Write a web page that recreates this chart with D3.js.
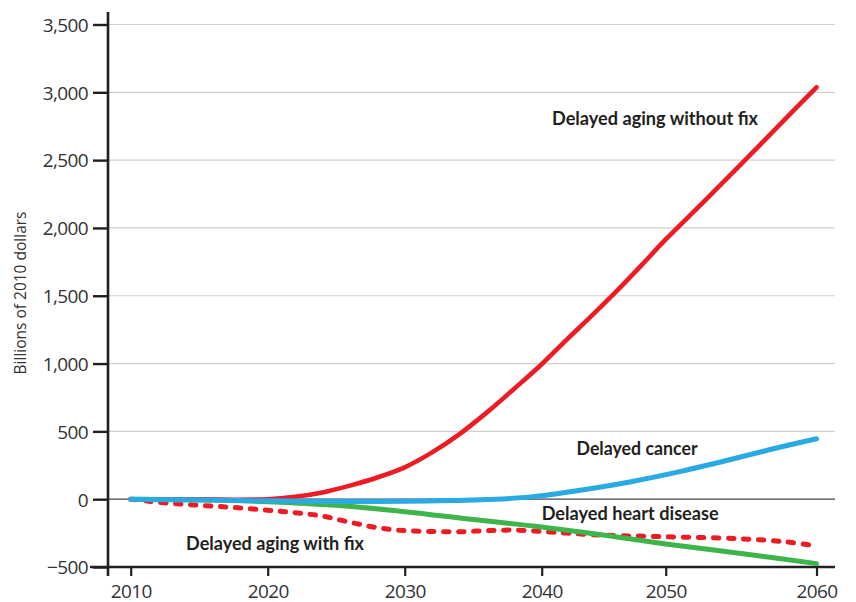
<!DOCTYPE html>
<html lang="en">
<head>
<meta charset="UTF-8">
<title>Billions of 2010 dollars</title>
<script src="https://d3js.org/d3.v7.min.js"></script>
<style>
    body { margin: 0; background: #fff; }
    svg { display: block; }
    .tick-label { font-family: "Open Sans", sans-serif; font-size: 19px; letter-spacing: -0.6px; fill: #333; }
    .axis-title { font-family: "Open Sans", sans-serif; font-size: 15.5px; fill: #333; }
    .series-label { font-family: Lato, sans-serif; font-weight: 700; font-size: 19px; fill: #231f20; }
</style>
</head>
<body>
<svg width="856" height="602"></svg>
<script>
// tick values
const yTicks = [-500, 0, 500, 1000, 1500, 2000, 2500, 3000, 3500];
const xTicks = [2010, 2020, 2030, 2040, 2050, 2060];

// Delayed aging without fix (solid red)
const noFixYears  = [2010, 2015, 2020, 2022, 2024, 2026, 2028, 2030, 2032, 2034, 2036, 2038, 2040, 2042, 2044, 2046, 2048, 2050, 2052.5, 2055, 2057.5, 2060];
const noFixValues = [0, -3, 0, 18, 50, 100, 160, 235, 345, 480, 640, 815, 995, 1175, 1350, 1530, 1720, 1915, 2190, 2470, 2755, 3037];

// Delayed cancer (blue)
const cancerYears  = [2010, 2015, 2020, 2025, 2030, 2035.5, 2039.2, 2043.1, 2047.1, 2051, 2054.5, 2057, 2060];
const cancerValues = [0, -6, -12, -16, -16, -5, 17, 66, 127, 205, 298, 368, 446];

// Delayed heart disease (green)
const heartYears  = [2010, 2015, 2020, 2025, 2030, 2035, 2040, 2045, 2050, 2055, 2060];
const heartValues = [0, -5, -18, -45, -92, -150, -205, -265, -330, -400, -475];

// Delayed aging with fix (dashed red)
const fixYears  = [2010, 2012.5, 2015, 2017.5, 2020, 2022, 2024, 2026, 2028, 2030, 2032, 2034, 2036, 2038, 2040, 2042, 2045, 2050, 2055, 2058, 2060];
const fixValues = [0, -27, -45, -61, -81, -100, -125, -170, -210, -232, -238, -240, -232, -228, -238, -250, -265, -277, -292, -315, -345];

const svg = d3.select("svg");

// year axis in the source is not evenly spaced past 2040
const x = d3.scaleLinear()
    .domain([2010, 2040, 2050, 2060])
    .range([130.7, 541.7, 665.7, 816.5]);

const y = d3.scaleLinear()
    .domain([-500, 3500])
    .range([567, 24.5]);

const left = 108, right = 835;

// grid lines
svg.append("g")
    .selectAll("line")
    .data(yTicks.filter(d => d > 0))
    .enter().append("line")
    .attr("x1", left).attr("x2", right)
    .attr("y1", d => y(d)).attr("y2", d => y(d))
    .attr("stroke", "#d0d0d0")
    .attr("stroke-width", 1.2);

// zero line
svg.append("line")
    .attr("x1", left).attr("x2", right)
    .attr("y1", y(0)).attr("y2", y(0))
    .attr("stroke", "#444")
    .attr("stroke-width", 1.2);

// y axis
const yAxis = svg.append("g")
    .attr("transform", `translate(${left},0)`)
    .call(d3.axisLeft(y).tickValues(yTicks).tickFormat(d3.format(",")).tickSize(15).tickPadding(5));
yAxis.select(".domain").remove();
yAxis.attr("font-size", null).attr("font-family", null);
yAxis.selectAll(".tick line").attr("stroke", "#231f20").attr("stroke-width", 2.4);
yAxis.selectAll(".tick text").attr("class", "tick-label").attr("dy", "0.36em");

// x axis
const xAxis = svg.append("g")
    .attr("transform", `translate(0,${y(-500)})`)
    .call(d3.axisBottom(x).tickValues(xTicks).tickFormat(d3.format("d")).tickSize(9).tickPadding(5));
xAxis.select(".domain").remove();
xAxis.attr("font-size", null).attr("font-family", null);
xAxis.selectAll(".tick line").attr("stroke", "#231f20").attr("stroke-width", 2.2);
xAxis.selectAll(".tick text").attr("class", "tick-label").attr("dy", "0.9em");

// axis lines
svg.append("line")
    .attr("x1", 90).attr("x2", right)
    .attr("y1", y(-500)).attr("y2", y(-500))
    .attr("stroke", "#231f20").attr("stroke-width", 2.4);
svg.append("line")
    .attr("x1", left).attr("x2", left)
    .attr("y1", 12).attr("y2", 576)
    .attr("stroke", "#231f20").attr("stroke-width", 2.6);

// y axis title
svg.append("text")
    .attr("class", "axis-title")
    .attr("transform", "translate(26,293) rotate(-90)")
    .attr("text-anchor", "middle")
    .text("Billions of 2010 dollars");

// lines
const line = d3.line()
    .x(d => x(d[0]))
    .y(d => y(d[1]))
    .curve(d3.curveCatmullRom.alpha(0.5));

const series = [
    { years: fixYears, values: fixValues, color: "#ed1c24", width: 5, dash: "5.5,9.5" },
    { years: heartYears, values: heartValues, color: "#3db54a", width: 5 },
    { years: noFixYears, values: noFixValues, color: "#ed1c24", width: 4.6 },
    { years: cancerYears, values: cancerValues, color: "#29aae2", width: 5 }
];

series.forEach(s => {
    svg.append("path")
        .datum(s.years.map((yr, i) => [yr, s.values[i]]))
        .attr("fill", "none")
        .attr("stroke", s.color)
        .attr("stroke-width", s.width)
        .attr("stroke-linecap", "round")
        .attr("stroke-linejoin", "round")
        .attr("stroke-dasharray", s.dash || null)
        .attr("d", line);
});

// series labels
const labels = [
    { text: "Delayed aging without fix", x: 552, y: 125, w: 206 },
    { text: "Delayed cancer", x: 576.5, y: 455, w: 121 },
    { text: "Delayed heart disease", x: 541.7, y: 520, w: 177 },
    { text: "Delayed aging with fix", x: 186, y: 549.5, w: 178 }
];

svg.selectAll(".series-label")
    .data(labels)
    .enter().append("text")
    .attr("class", "series-label")
    .attr("x", d => d.x)
    .attr("y", d => d.y)
    .attr("textLength", d => d.w)
    .attr("lengthAdjust", "spacingAndGlyphs")
    .text(d => d.text);
</script>
</body>
</html>
